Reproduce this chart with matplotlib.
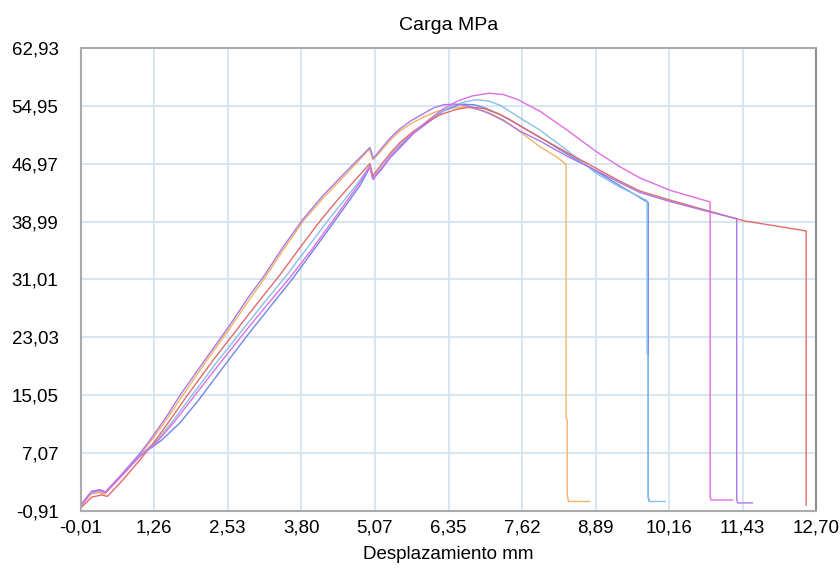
import matplotlib
matplotlib.use('Agg')
import matplotlib.pyplot as plt

plt.rc('font', family=['Liberation Sans', 'DejaVu Sans'], size=13.5)

# tick positions / labels
x_ticks = [-0.01, 1.26, 2.53, 3.80, 5.07, 6.35, 7.62, 8.89, 10.16, 11.43, 12.70]
y_ticks = [-0.91, 7.07, 15.05, 23.03, 31.01, 38.99, 46.97, 54.95, 62.93]

# curves (desplazamiento mm, carga MPa)
orange_x = [-0.01, 0.16, 0.30, 0.40, 0.67, 1.00, 1.22, 1.50, 1.75, 2.20, 2.56, 2.93, 3.17, 3.50, 3.85, 4.20, 4.49, 4.75, 4.98, 5.04, 5.20, 5.35, 5.51, 5.70, 5.94, 6.15, 6.35, 6.60, 6.85, 7.05, 7.30, 7.58, 7.93, 8.20, 8.38, 8.38, 8.40, 8.40, 8.42, 8.78]
orange_y = [-0.3, 1.4, 1.6, 1.4, 3.7, 6.7, 8.9, 12.0, 15.0, 20.2, 24.2, 28.5, 31.2, 35.2, 39.2, 42.4, 44.8, 47.0, 49.0, 47.5, 48.9, 50.3, 51.5, 52.5, 53.5, 54.2, 54.6, 54.8, 54.5, 54.0, 53.0, 51.4, 49.3, 48.0, 46.9, 12.0, 11.6, 1.5, 0.4, 0.4]

violet_x = [-0.01, 0.18, 0.32, 0.42, 0.67, 1.00, 1.20, 1.48, 1.72, 2.18, 2.54, 2.90, 3.15, 3.48, 3.83, 4.18, 4.47, 4.74, 4.99, 5.05, 5.20, 5.35, 5.51, 5.70, 5.94, 6.10, 6.26, 6.45, 6.65, 6.85, 7.05, 7.30, 7.60, 7.93, 8.40, 8.91, 9.30, 9.66, 10.16, 10.87, 11.33, 11.33, 11.35, 11.60]
violet_y = [-0.1, 1.8, 2.0, 1.7, 3.9, 6.9, 9.0, 12.2, 15.2, 20.4, 24.4, 28.7, 31.4, 35.4, 39.3, 42.6, 45.0, 47.2, 49.2, 47.7, 49.2, 50.6, 51.8, 52.9, 54.0, 54.7, 55.1, 55.2, 55.0, 54.5, 53.9, 52.9, 51.4, 50.1, 48.0, 46.0, 44.4, 43.0, 41.8, 40.3, 39.4, 0.6, 0.2, 0.2]

red_x = [-0.01, 0.18, 0.35, 0.45, 0.70, 1.00, 1.28, 1.55, 1.82, 2.28, 2.68, 3.05, 3.42, 3.78, 4.12, 4.42, 4.72, 4.99, 5.04, 5.20, 5.35, 5.51, 5.75, 6.00, 6.20, 6.45, 6.72, 6.95, 7.20, 7.40, 7.58, 7.93, 8.40, 8.91, 9.30, 9.66, 10.16, 10.87, 11.45, 12.00, 12.53, 12.53]
red_y = [-0.5, 1.0, 1.3, 1.1, 3.2, 6.0, 8.8, 11.8, 14.9, 19.9, 24.0, 27.8, 31.5, 35.4, 39.0, 41.9, 44.6, 47.0, 45.3, 47.0, 48.5, 49.9, 51.5, 52.8, 53.7, 54.4, 54.8, 54.6, 53.9, 53.1, 52.2, 50.6, 48.5, 46.3, 44.6, 43.2, 42.0, 40.4, 39.1, 38.4, 37.7, -0.1]

lblue_x = [-0.01, 0.16, 0.30, 0.40, 0.67, 1.00, 1.32, 1.60, 1.90, 2.36, 2.78, 3.16, 3.55, 3.90, 4.24, 4.52, 4.78, 4.99, 5.04, 5.20, 5.35, 5.51, 5.75, 6.00, 6.20, 6.40, 6.62, 6.84, 7.05, 7.25, 7.58, 7.93, 8.40, 8.91, 9.30, 9.78, 9.78, 9.80, 9.80, 9.82, 10.09]
lblue_y = [-0.2, 1.5, 1.8, 1.6, 3.8, 6.7, 8.9, 11.7, 14.9, 19.8, 24.0, 27.8, 31.6, 35.3, 38.9, 41.7, 44.3, 46.7, 45.0, 46.6, 48.2, 49.6, 51.4, 52.9, 54.0, 54.9, 55.5, 55.8, 55.6, 55.0, 53.3, 51.6, 48.8, 45.6, 43.8, 41.9, 20.8, 20.4, 1.0, 0.4, 0.4]

magenta_x = [-0.01, 0.18, 0.32, 0.42, 0.67, 1.00, 1.33, 1.62, 1.93, 2.40, 2.83, 3.22, 3.62, 3.98, 4.30, 4.56, 4.80, 4.99, 5.04, 5.20, 5.35, 5.51, 5.75, 6.00, 6.25, 6.50, 6.75, 7.05, 7.30, 7.55, 7.93, 8.40, 8.91, 9.30, 9.66, 10.18, 10.87, 10.87, 10.89, 11.26]
magenta_y = [-0.2, 1.7, 1.9, 1.6, 3.7, 6.5, 8.8, 11.5, 14.7, 19.5, 23.8, 27.6, 31.4, 35.1, 38.6, 41.5, 44.2, 46.6, 44.9, 46.4, 48.0, 49.4, 51.3, 53.0, 54.5, 55.6, 56.3, 56.7, 56.5, 55.8, 54.2, 51.6, 48.6, 46.6, 45.0, 43.3, 41.7, 1.0, 0.6, 0.6]

blue_x = [-0.01, 0.18, 0.32, 0.42, 0.67, 1.00, 1.38, 1.70, 2.02, 2.48, 2.90, 3.28, 3.66, 4.00, 4.32, 4.58, 4.82, 4.99, 5.04, 5.20, 5.35, 5.51, 5.75, 6.00, 6.25, 6.55, 6.80, 7.00, 7.25, 7.50, 7.93, 8.40, 8.91, 9.30, 9.80, 9.80, 9.82]
blue_y = [-0.1, 1.8, 2.0, 1.7, 3.8, 6.6, 8.8, 11.2, 14.3, 19.2, 23.6, 27.4, 31.2, 34.9, 38.4, 41.3, 44.0, 46.5, 44.8, 46.3, 47.9, 49.2, 51.2, 52.7, 54.2, 55.2, 55.1, 54.6, 53.7, 52.6, 50.6, 48.3, 45.9, 44.0, 41.6, 1.0, 0.4]

fig = plt.figure(figsize=(8.4, 5.68), dpi=100)
ax = fig.add_axes([0.0961, 0.1004, 0.8753, 0.8151])

ax.plot(orange_x, orange_y, color='#f2b466', lw=1.0)
ax.plot(blue_x, blue_y, color='#6f86e8', lw=1.0)
ax.plot(lblue_x, lblue_y, color='#86c0ea', lw=1.0)
ax.plot(red_x, red_y, color='#e46a6a', lw=1.0)
ax.plot(violet_x, violet_y, color='#a978e6', lw=1.0)
ax.plot(magenta_x, magenta_y, color='#e06ee0', lw=1.0)

ax.set_xlim(-0.01, 12.70)
ax.set_ylim(-0.91, 62.93)
ax.set_xticks(x_ticks)
ax.set_yticks(y_ticks)
ax.set_xticklabels([f'{v:.2f}'.replace('.', ',') for v in x_ticks])
ax.set_yticklabels([f'{v:.2f}'.replace('.', ',') for v in y_ticks])
ax.tick_params(length=0)
ax.tick_params(axis='x', pad=6)
ax.tick_params(axis='y', pad=16)

ax.grid(True, color='#d4e4f1', lw=1.3)
ax.set_axisbelow(True)
for s in ['left', 'bottom', 'top']:
    ax.spines[s].set_color('#ababab')
    ax.spines[s].set_linewidth(1.5)
ax.spines['right'].set_color('#8e8e8e')
ax.spines['right'].set_linewidth(1.5)

ax.set_title('Carga MPa', pad=13, fontsize=14)
ax.set_xlabel('Desplazamiento mm', labelpad=7)

fig.savefig('out.png', dpi=100)
